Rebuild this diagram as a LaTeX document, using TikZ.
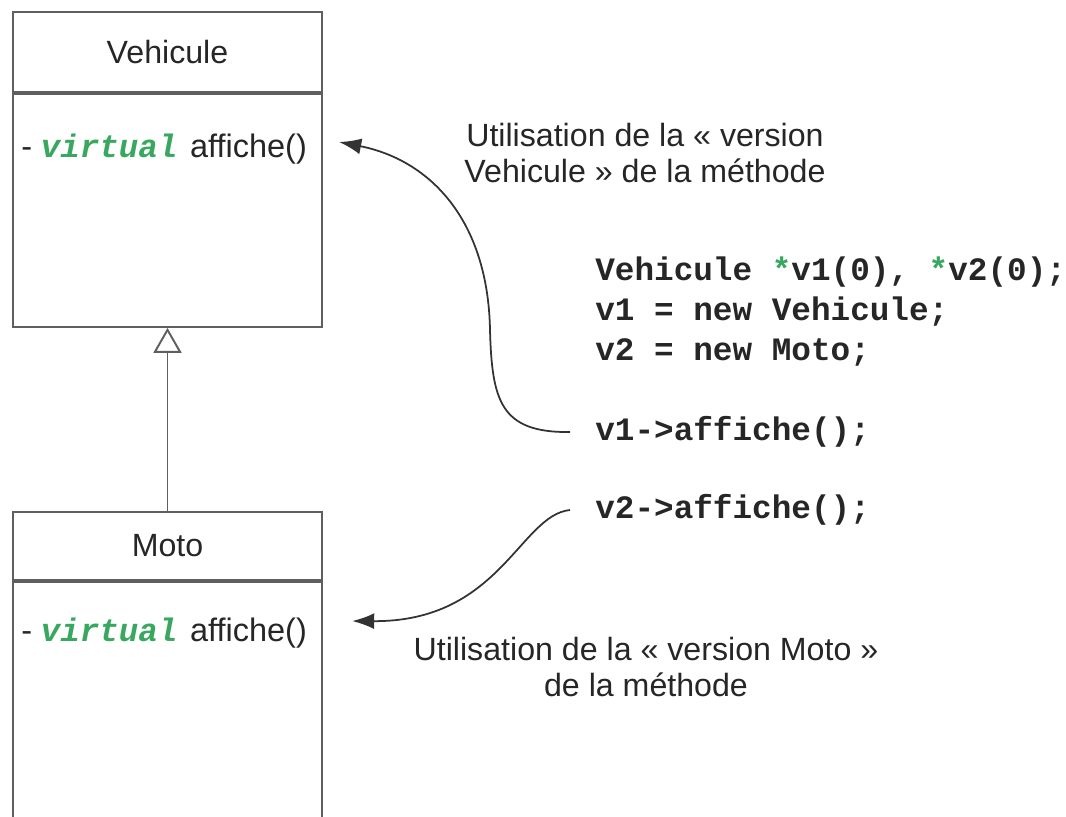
\documentclass[tikz,border=0pt]{standalone}
\usepackage{fontspec}
\setmainfont{Liberation Sans}
\setmonofont{Liberation Mono}
\usetikzlibrary{arrows.meta}
\definecolor{codegreen}{RGB}{56,168,96}
\definecolor{linegray}{RGB}{95,95,95}
\newcommand{\kw}[1]{{\ttfamily\bfseries\itshape\color{codegreen}#1}}
\begin{document}
\begin{tikzpicture}[
  x=0.02cm, y=-0.02cm,
  classhead/.style={rectangle, draw=linegray, line width=1.1pt, minimum width=6.18cm,
                    text centered, font=\fontsize{18.3}{22}\selectfont, text=black!85},
  classbody/.style={rectangle, draw=linegray, line width=1.1pt, minimum width=6.18cm},
  member/.style={anchor=west, inner sep=0pt, font=\fontsize{18.5}{22}\selectfont, text=black!85},
  note/.style={align=center, font=\fontsize{18.3}{21}\selectfont, text=black!85},
  code/.style={anchor=west, inner sep=0pt, font=\ttfamily\bfseries\fontsize{18.6}{22}\selectfont, text=black!85},
  call/.style={-{Latex[length=0.44cm, width=0.32cm]}, line width=1pt, black!80},
  inherit/.style={-{Triangle[open, length=0.5cm, width=0.56cm, fill=white]}, line width=1.1pt, linegray},
]
\clip (0,0) rectangle (1066,816);
\node[classhead, minimum height=1.6cm] (vehicule) at (167.5,52) {Vehicule};
\node[classbody, minimum height=4.66cm, anchor=north] (vehbody) at (vehicule.south) {};
\node[classhead, minimum height=1.36cm] (moto) at (167.5,546) {Moto};
\node[classbody, minimum height=5cm, anchor=north] (motobody) at (moto.south) {};
\node[member] (vehop) at (21,149) {-\hspace{5pt}\kw{virtual}\hspace{2pt} affiche()};
\node[member] (motoop) at (21,633) {-\hspace{5pt}\kw{virtual}\hspace{2pt} affiche()};
\draw[inherit] (moto.north)--(vehbody.south);
\node[code] (code1) at (595,272) {Vehicule {\color{codegreen}*}v1(0), {\color{codegreen}*}v2(0);};
\node[code] (code2) at (595,312) {v1 = new Vehicule;};
\node[code] (code3) at (595,352) {v2 = new Moto;};
\node[code] (code4) at (595,432) {v1->affiche();};
\node[code] (code5) at (595,510) {v2->affiche();};
\node[note] (usevehicule) at (645,153) {Utilisation de la « version\\Vehicule » de la méthode};
\node[note] (usemoto) at (646,667) {Utilisation de la « version Moto »\\de la méthode};
\draw[call] ([xshift=-0.5cm]code4.west) .. controls (500,433) and (492,400) .. (490,330)
  .. controls (488,220) and (430,160) .. ([xshift=0.64cm,yshift=0.14cm]vehop.east);
\draw[call] ([xshift=-0.5cm]code5.west) .. controls (520,515) and (500,622) .. ([xshift=0.9cm,yshift=0.24cm]motoop.east);
\end{tikzpicture}
\end{document}
